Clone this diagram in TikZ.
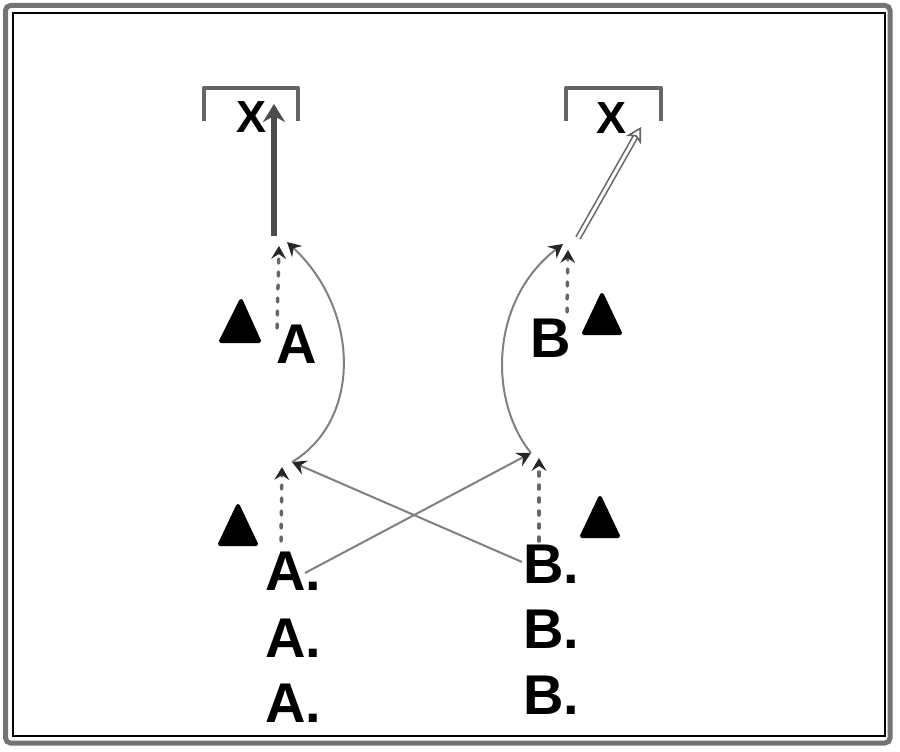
\documentclass[tikz,border=0pt]{standalone}
\usepackage{fontspec}
\setmainfont{Liberation Sans}
\usetikzlibrary{arrows.meta}
\begin{document}
\begin{tikzpicture}[x=1pt,y=-1pt,
  frameouter/.style={draw=black!55, line width=5pt, rounded corners=5pt},
  frameinner/.style={draw=black, line width=1.2pt},
  goalpost/.style={draw=black!60, line width=4.5pt, line join=round},
  letter/.style={font=\bfseries\fontsize{56}{60}\selectfont, inner sep=0pt, anchor=base west},
  goalx/.style={font=\bfseries\fontsize{45}{50}\selectfont, inner sep=0pt, anchor=base west},
  cone/.style={fill=black, draw=black, line width=4pt, line join=round},
  run/.style={draw=black!60, line width=3.5pt, dash pattern=on 4pt off 9pt, line cap=round, -{Stealth[length=13pt,width=15pt,inset=5pt,line width=1pt,color=black!85,fill=black!85]}},
  pass/.style={draw=black!50, line width=2pt, -{Stealth[length=14pt,width=15pt,inset=5pt,color=black!85,fill=black!85]}},
  shotsolid/.style={draw=black!70, line width=6pt, -{Stealth[length=18pt,width=22pt,inset=6pt]}},
  shotdouble/.style={draw=black!60, double=white, double distance=3pt, line width=1.6pt, -{Stealth[length=15pt,width=17pt,inset=4pt,open]}}
]
\useasboundingbox (0,0) rectangle (900,752);
\draw[frameouter] (5.5,5.5) rectangle (890,743);
\draw[frameinner] (13,13) rectangle (885,736);

% goals
\draw[goalpost] (204,121) -- (204,88) -- (298,88) -- (298,121);
\draw[goalpost] (566,121) -- (566,88) -- (661,88) -- (661,121);
\node[goalx] (xL) at (236,132) {X};
\node[goalx] (xR) at (596,133) {X};

% cones
\path[cone] (221,341) -- (259,341) -- (241,301) -- cycle;
\path[cone] (584,333) -- (620,333) -- (602,295) -- cycle;
\path[cone] (220,544) -- (256,544) -- (238,506) -- cycle;
\path[cone] (582,536) -- (618,536) -- (600,498) -- cycle;

% players
\node[letter] (A0) at (276,363) {A};
\node[letter] (B0) at (530,357) {B};
\node[letter] (A1) at (265,590) {A.};
\node[letter] (A2) at (265,657) {A.};
\node[letter] (A3) at (265,722) {A.};
\node[letter] (B1) at (523,583) {B.};
\node[letter] (B2) at (523,648) {B.};
\node[letter] (B3) at (523,714) {B.};

% marker points
\coordinate (uL) at (279,246);
\coordinate (uLc) at (287,242);
\coordinate (lL) at (282,467);
\coordinate (lLc) at (292,462);
\coordinate (uR) at (568,250);
\coordinate (uRc) at (563,244);
\coordinate (lR) at (539,458);
\coordinate (lRc) at (531,453);
\coordinate (sL0) at (274,236);
\coordinate (sL1) at (274,104);
\coordinate (sR0) at (578,238);
\coordinate (sR1) at (641,127);
\coordinate (rA0) at (277,328);
\coordinate (rB0) at (567,312);
\coordinate (rA1) at (281,541);
\coordinate (rB1) at (539,541);
\coordinate (pA1) at (305,573);
\coordinate (pB1) at (522,562);

% runs (dotted)
\draw[run] (rA0) -- (uL);
\draw[run] (rB0) -- (uR);
\draw[run] (rA1) -- (lL);
\draw[run] (rB1) -- (lR);

% crossing passes
\draw[pass] (pA1) -- (lRc);
\draw[pass] (pB1) -- (lLc);

% curved runs
\draw[pass] (lLc) .. controls (362,420) and (360,310) .. (uLc);
\draw[pass] (lRc) .. controls (488,400) and (490,300) .. (uRc);

% shots
\draw[shotsolid] (sL0) -- (sL1);
\draw[shotdouble] (sR0) -- (sR1);
\end{tikzpicture}
\end{document}
